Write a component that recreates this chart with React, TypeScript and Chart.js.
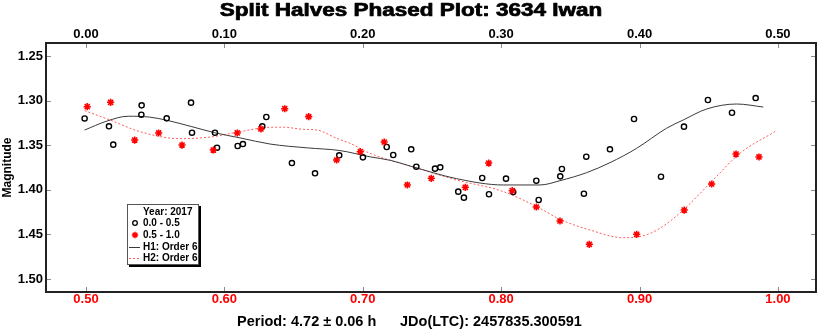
import React, { useEffect, useRef } from "react";
import { Chart, registerables } from "chart.js";

Chart.register(...registerables);

const FONT = '"Liberation Sans", Arial, Helvetica, sans-serif';

const TITLE = "Split Halves Phased Plot: 3634 Iwan";
const Y_TITLE = "Magnitude";
const PERIOD_TEXT = "Period: 4.72 \u00b1 0.06 h";
const JD_TEXT = "JDo(LTC): 2457835.300591";
const LEGEND_TITLE = "Year: 2017";
const SERIES_LABELS = ["0.0 - 0.5", "0.5 - 1.0", "H1: Order 6", "H2: Order 6"];

const bottomTicks = [0.5, 0.6, 0.7, 0.8, 0.9, 1.0];
const topTicks = [0.0, 0.1, 0.2, 0.3, 0.4, 0.5];
const yTicks = [1.25, 1.3, 1.35, 1.4, 1.45, 1.5];

const X_MIN = 0.4711;
const X_MAX = 1.0275;
const TOP_OFFSET = 0.5;
const Y_MIN = 1.2354;
const Y_MAX = 1.5146;

// First half (0.0 - 0.5) observations
const h1Phase = [
  0.499, 0.5166, 0.5197, 0.54, 0.5402, 0.5583, 0.5759, 0.5766, 0.5932, 0.5947,
  0.6096, 0.6134, 0.6274, 0.6303, 0.6488, 0.6655, 0.683, 0.7001, 0.7173, 0.722,
  0.735, 0.7387, 0.7522, 0.756, 0.769, 0.7731, 0.7863, 0.7912, 0.8035, 0.8087,
  0.8254, 0.8271, 0.8427, 0.8439, 0.8598, 0.8615, 0.8786, 0.896, 0.9155, 0.9321,
  0.9494, 0.9668, 0.9839,
];
const h1Mag = [
  1.32, 1.3288, 1.3494, 1.3158, 1.3053, 1.3199, 1.3023, 1.336, 1.336, 1.3528,
  1.3509, 1.3487, 1.3288, 1.3184, 1.37, 1.3815, 1.3613, 1.3636, 1.352, 1.361,
  1.3546, 1.3741, 1.3763, 1.3748, 1.4021, 1.4088, 1.3868, 1.405, 1.3875, 1.4025,
  1.3898, 1.4114, 1.3849, 1.3767, 1.4044, 1.3629, 1.3546, 1.3206, 1.3853, 1.3292,
  1.2993, 1.3136, 1.2971,
];

// Second half (0.5 - 1.0) observations
const h2Phase = [
  0.5009, 0.5178, 0.5352, 0.5525, 0.5694, 0.592, 0.6093, 0.6264, 0.6436, 0.6609,
  0.6811, 0.6982, 0.7155, 0.7322, 0.7495, 0.7741, 0.791, 0.808, 0.8254, 0.8425,
  0.8637, 0.8979, 0.9323, 0.9521, 0.9697, 0.9863,
];
const h2Mag = [
  1.3068, 1.3019, 1.3442, 1.3363, 1.3498, 1.3554, 1.3363, 1.3318, 1.3091, 1.318,
  1.3666, 1.3573, 1.3464, 1.3946, 1.3871, 1.3972, 1.37, 1.401, 1.4193, 1.435,
  1.4611, 1.4499, 1.4227, 1.3935, 1.3599, 1.3632,
];

// Fourier fit curves
const fit1Phase = [
  0.499, 0.515, 0.5305, 0.546, 0.5583, 0.576, 0.593, 0.612, 0.633, 0.66,
  0.6835, 0.7052, 0.72, 0.7341, 0.7678, 0.8015, 0.828, 0.8425, 0.8617, 0.8786,
  0.8979, 0.9195, 0.9316, 0.9485, 0.9702, 0.9894,
];
const fit1Mag = [
  1.333, 1.323, 1.3175, 1.3185, 1.322, 1.329, 1.336, 1.342, 1.3487, 1.353,
  1.356, 1.363, 1.367, 1.3733, 1.3875, 1.3946, 1.3946, 1.3898, 1.3808, 1.3696,
  1.3535, 1.331, 1.3217, 1.3094, 1.3038, 1.3072,
];
const fit2Phase = [
  0.499, 0.5173, 0.539, 0.5679, 0.592, 0.6113, 0.633, 0.6426, 0.657, 0.6667,
  0.6811, 0.6908, 0.7052, 0.7341, 0.7678, 0.8015, 0.828, 0.8425, 0.8642, 0.8882,
  0.9003, 0.9147, 0.9316, 0.9532, 0.9725, 0.999,
];
const fit2Mag = [
  1.3113, 1.3217, 1.3348, 1.3427, 1.3404, 1.3348, 1.3299, 1.3298, 1.3322, 1.3329,
  1.3423, 1.3479, 1.3591, 1.3733, 1.389, 1.402, 1.4208, 1.4331, 1.4451, 1.4537,
  1.4525, 1.4432, 1.4226, 1.389, 1.3591, 1.3337,
];

const RED = "#ff0000";
const FIT1_COLOR = "#3a3a3a";
const FIT2_COLOR = "rgba(255,40,40,0.75)";

const toPts = (xs: number[], ys: number[]) => xs.map((x, i) => ({ x, y: ys[i] }));

function drawStar(ctx: CanvasRenderingContext2D, x: number, y: number, r: number) {
  ctx.beginPath();
  ctx.moveTo(x - r, y);
  ctx.lineTo(x + r, y);
  ctx.moveTo(x, y - r);
  ctx.lineTo(x, y + r);
  const d = r * Math.SQRT1_2;
  ctx.moveTo(x - d, y - d);
  ctx.lineTo(x + d, y + d);
  ctx.moveTo(x - d, y + d);
  ctx.lineTo(x + d, y - d);
  ctx.stroke();
}

const framePlugin = {
  id: "framePlugin",
  afterDraw(chart: any) {
    const { ctx, chartArea: a, scales, width } = chart;
    ctx.save();

    // title (wide heavy face)
    ctx.save();
    ctx.fillStyle = "#000";
    ctx.strokeStyle = "#000";
    ctx.lineWidth = 0.7;
    ctx.lineJoin = "round";
    ctx.font = `bold 18px ${FONT}`;
    ctx.textAlign = "center";
    ctx.textBaseline = "alphabetic";
    ctx.translate(width / 2, 15.5);
    ctx.scale(1.25, 1);
    ctx.fillText(TITLE, 0, 0);
    ctx.strokeText(TITLE, 0, 0);
    ctx.restore();

    const TL = 5;
    ctx.strokeStyle = "#8a8a8a";
    ctx.lineWidth = 1;
    ctx.beginPath();
    for (const v of bottomTicks) {
      const px = Math.round(scales.x.getPixelForValue(v)) + 0.5;
      ctx.moveTo(px, a.bottom);
      ctx.lineTo(px, a.bottom - TL);
    }
    for (const v of topTicks) {
      const px = Math.round(scales.x2.getPixelForValue(v)) + 0.5;
      ctx.moveTo(px, a.top);
      ctx.lineTo(px, a.top + TL);
    }
    for (const v of yTicks) {
      const py = Math.round(scales.y.getPixelForValue(v)) + 0.5;
      ctx.moveTo(a.left, py);
      ctx.lineTo(a.left + TL, py);
      ctx.moveTo(a.right, py);
      ctx.lineTo(a.right - TL, py);
    }
    ctx.stroke();

    ctx.strokeStyle = "#222";
    ctx.lineWidth = 2;
    ctx.strokeRect(a.left, a.top, a.right - a.left, a.bottom - a.top);

    // bottom captions
    ctx.fillStyle = "#000";
    ctx.font = `bold 14.5px ${FONT}`;
    ctx.textAlign = "left";
    ctx.textBaseline = "alphabetic";
    ctx.fillText(PERIOD_TEXT, a.left + 191, a.bottom + 34);
    ctx.fillText(JD_TEXT, a.left + 354, a.bottom + 34);

    // legend
    const bx = a.left + 81;
    const by = a.bottom - 88;
    const bw = 72;
    const bh = 61;
    ctx.fillStyle = "#000";
    ctx.fillRect(bx + 2, by + 2, bw, bh);
    ctx.fillStyle = "#fff";
    ctx.fillRect(bx, by, bw, bh);
    ctx.strokeStyle = "#555";
    ctx.lineWidth = 1;
    ctx.strokeRect(bx + 0.5, by + 0.5, bw - 1, bh - 1);

    ctx.font = `bold 10px ${FONT}`;
    ctx.fillStyle = "#000";
    ctx.textBaseline = "middle";
    const tx = bx + 16;
    const rows = [by + 8, by + 19, by + 31, by + 43, by + 54];
    ctx.fillText(LEGEND_TITLE, tx, rows[0]);
    for (let i = 0; i < 4; i++) ctx.fillText(SERIES_LABELS[i], tx, rows[i + 1]);

    const mx = bx + 8;
    ctx.strokeStyle = "#000";
    ctx.lineWidth = 1.3;
    ctx.beginPath();
    ctx.arc(mx, rows[1], 2.3, 0, Math.PI * 2);
    ctx.stroke();

    ctx.strokeStyle = RED;
    ctx.lineWidth = 1.5;
    drawStar(ctx, mx, rows[2], 3.2);

    ctx.strokeStyle = FIT1_COLOR;
    ctx.lineWidth = 1;
    ctx.beginPath();
    ctx.moveTo(bx + 2, rows[3] + 0.5);
    ctx.lineTo(bx + 13, rows[3] + 0.5);
    ctx.stroke();

    ctx.strokeStyle = FIT2_COLOR;
    ctx.setLineDash([2, 2]);
    ctx.beginPath();
    ctx.moveTo(bx + 2, rows[4] + 0.5);
    ctx.lineTo(bx + 13, rows[4] + 0.5);
    ctx.stroke();
    ctx.setLineDash([]);

    ctx.restore();
  },
};

export default function App() {
  const ref = useRef<HTMLCanvasElement | null>(null);

  useEffect(() => {
    if (!ref.current) return;
    const chart = new Chart(ref.current, {
      type: "scatter",
      data: {
        datasets: [
          {
            label: SERIES_LABELS[1],
            data: toPts(h2Phase, h2Mag),
            pointStyle: "star",
            pointRadius: 3.6,
            pointBorderWidth: 1.6,
            borderColor: RED,
            backgroundColor: RED,
            showLine: false,
          } as any,
          {
            label: SERIES_LABELS[0],
            data: toPts(h1Phase, h1Mag),
            pointStyle: "circle",
            pointRadius: 2.6,
            pointBorderWidth: 1.4,
            borderColor: "#000",
            backgroundColor: "rgba(0,0,0,0)",
            showLine: false,
          } as any,
          {
            label: SERIES_LABELS[2],
            data: toPts(fit1Phase, fit1Mag),
            showLine: true,
            borderColor: FIT1_COLOR,
            borderWidth: 1,
            pointRadius: 0,
            cubicInterpolationMode: "monotone",
            fill: false,
          } as any,
          {
            label: SERIES_LABELS[3],
            data: toPts(fit2Phase, fit2Mag),
            showLine: true,
            borderColor: FIT2_COLOR,
            borderWidth: 1,
            borderDash: [2, 2],
            pointRadius: 0,
            cubicInterpolationMode: "monotone",
            fill: false,
          } as any,
        ],
      },
      options: {
        animation: false,
        responsive: false,
        devicePixelRatio: 1,
        layout: { padding: { left: 0, right: 6, top: 22, bottom: 0 } },
        plugins: {
          legend: { display: false },
          tooltip: { enabled: false },
          title: { display: false },
        },
        scales: {
          x: {
            type: "linear",
            position: "bottom",
            min: X_MIN,
            max: X_MAX,
            afterBuildTicks: (s: any) => {
              s.ticks = bottomTicks.map((v) => ({ value: v }));
            },
            afterFit: (s: any) => {
              s.height = 37;
            },
            ticks: {
              color: RED,
              padding: 0,
              font: { family: FONT, size: 13, weight: "bold" },
              callback: (v: any) => Number(v).toFixed(2),
            },
            grid: { display: false, drawTicks: false },
            border: { display: false },
          },
          x2: {
            type: "linear",
            position: "top",
            min: X_MIN - TOP_OFFSET,
            max: X_MAX - TOP_OFFSET,
            afterBuildTicks: (s: any) => {
              s.ticks = topTicks.map((v) => ({ value: v }));
            },
            afterFit: (s: any) => {
              s.height = 21;
            },
            ticks: {
              color: "#000",
              padding: 1,
              font: { family: FONT, size: 13, weight: "bold" },
              callback: (v: any) => Number(v).toFixed(2),
            },
            grid: { display: false, drawTicks: false },
            border: { display: false },
          },
          y: {
            type: "linear",
            position: "left",
            reverse: true,
            min: Y_MIN,
            max: Y_MAX,
            afterBuildTicks: (s: any) => {
              s.ticks = yTicks.map((v) => ({ value: v }));
            },
            afterFit: (s: any) => {
              s.width = 46;
            },
            ticks: {
              color: "#000",
              padding: 3,
              font: { family: FONT, size: 13, weight: "bold" },
              callback: (v: any) => Number(v).toFixed(2),
            },
            title: {
              display: true,
              text: Y_TITLE,
              color: "#000",
              font: { family: FONT, size: 12, weight: "bold" },
              padding: { top: 0, bottom: 0 },
            },
            grid: { display: false, drawTicks: false },
            border: { display: false },
          },
        },
      } as any,
      plugins: [framePlugin],
    });
    return () => chart.destroy();
  }, []);

  return (
    <div style={{ position: "absolute", left: 0, top: 0, width: 822, height: 329, background: "#fff" }}>
      <canvas ref={ref} width={822} height={329} style={{ display: "block" }} />
    </div>
  );
}
